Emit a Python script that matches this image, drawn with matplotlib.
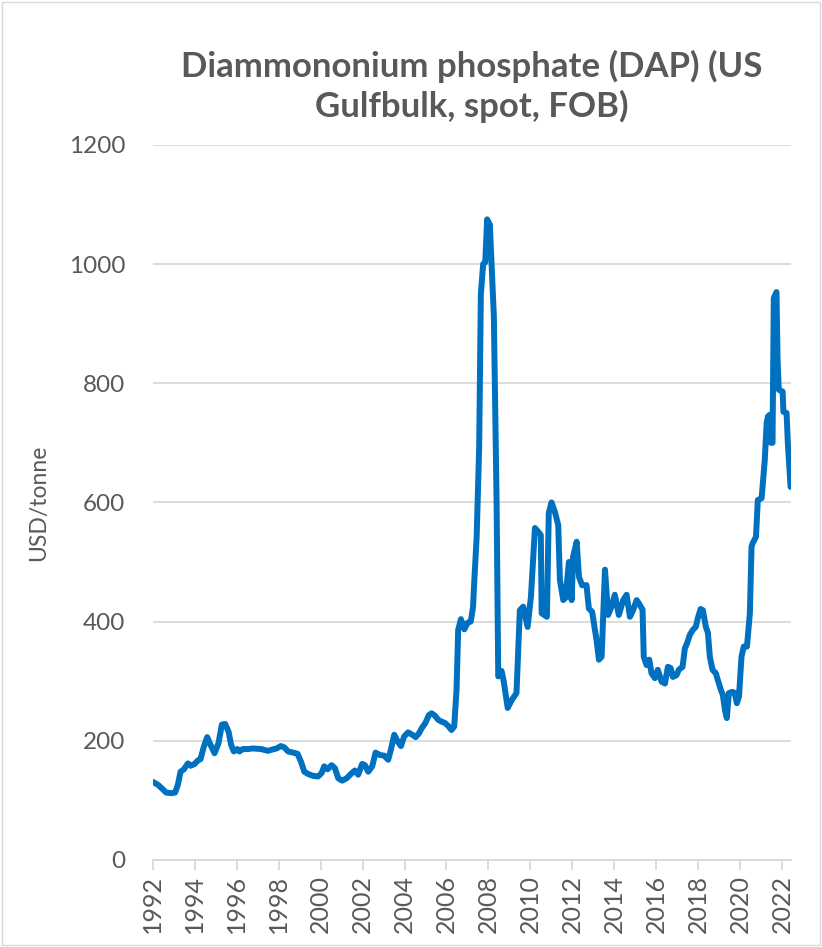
import numpy as np
import matplotlib
matplotlib.use('Agg')
import matplotlib.pyplot as plt
from matplotlib.patches import Rectangle

# DAP price (decimal year, USD/tonne)
years = [
    1992.00, 1992.24, 1992.43, 1992.63, 1992.87, 1993.06, 1993.19, 1993.32, 1993.48, 1993.67,
    1993.80, 1993.99, 1994.15, 1994.27, 1994.43, 1994.59, 1994.75, 1994.94, 1995.13, 1995.29,
    1995.45, 1995.61, 1995.73, 1995.86, 1996.02, 1996.13, 1996.29, 1996.53, 1996.77, 1997.16,
    1997.48, 1997.67, 1997.90, 1998.10, 1998.26, 1998.45, 1998.69, 1998.90, 1999.06, 1999.22,
    1999.41, 1999.64, 1999.88, 2000.05, 2000.17, 2000.33, 2000.52, 2000.68, 2000.84, 2001.03,
    2001.24, 2001.44, 2001.63, 2001.79, 2001.98, 2002.11, 2002.27, 2002.46, 2002.62, 2002.83,
    2003.03, 2003.22, 2003.35, 2003.51, 2003.67, 2003.83, 2003.98, 2004.17, 2004.37, 2004.53,
    2004.68, 2004.84, 2005.00, 2005.16, 2005.29, 2005.45, 2005.61, 2005.77, 2005.92, 2006.08,
    2006.24, 2006.37, 2006.48, 2006.56, 2006.69, 2006.85, 2007.01, 2007.16, 2007.27, 2007.30,
    2007.44, 2007.56, 2007.64, 2007.75, 2007.85, 2007.94, 2008.07, 2008.26, 2008.39, 2008.47,
    2008.63, 2008.73, 2008.92, 2009.11, 2009.34, 2009.50, 2009.66, 2009.87, 2010.03, 2010.22,
    2010.37, 2010.50, 2010.54, 2010.66, 2010.79, 2010.88, 2011.01, 2011.17, 2011.33, 2011.41,
    2011.57, 2011.68, 2011.84, 2011.97, 2012.04, 2012.21, 2012.32, 2012.47, 2012.68, 2012.79,
    2012.95, 2013.08, 2013.16, 2013.27, 2013.40, 2013.56, 2013.71, 2013.87, 2014.03, 2014.22,
    2014.43, 2014.59, 2014.75, 2014.90, 2015.07, 2015.22, 2015.35, 2015.41, 2015.54, 2015.67,
    2015.78, 2015.94, 2016.08, 2016.26, 2016.42, 2016.56, 2016.69, 2016.80, 2016.97, 2017.08,
    2017.26, 2017.37, 2017.48, 2017.61, 2017.75, 2017.89, 2017.99, 2018.12, 2018.23, 2018.37,
    2018.47, 2018.56, 2018.69, 2018.85, 2018.94, 2019.09, 2019.18, 2019.28, 2019.37, 2019.47,
    2019.64, 2019.75, 2019.85, 2019.95, 2020.07, 2020.18, 2020.33, 2020.47, 2020.55, 2020.61,
    2020.76, 2020.85, 2021.03, 2021.18, 2021.27, 2021.33, 2021.42, 2021.47, 2021.55, 2021.61,
    2021.74, 2021.79, 2021.85, 2022.03, 2022.07, 2022.22, 2022.28, 2022.41,
]
price = [
    131, 126, 120, 113, 112, 113, 126, 148, 152, 162,
    158, 161, 167, 169, 190, 206, 193, 179, 196, 227,
    228, 215, 193, 182, 186, 182, 186, 186, 187, 186,
    183, 185, 187, 191, 189, 182, 180, 178, 165, 148,
    144, 141, 140, 146, 157, 152, 159, 154, 137, 133,
    137, 144, 150, 143, 161, 159, 148, 157, 180, 176,
    175, 168, 185, 210, 199, 191, 207, 214, 210, 206,
    212, 222, 230, 243, 246, 242, 235, 232, 230, 225,
    218, 224, 285, 386, 404, 387, 398, 400, 425, 450,
    542, 692, 949, 1000, 1003, 1075, 1066, 913, 602, 308,
    317, 300, 255, 268, 280, 419, 425, 391, 442, 557,
    551, 545, 414, 411, 408, 582, 600, 584, 562, 470,
    436, 440, 500, 436, 509, 534, 475, 461, 461, 422,
    416, 386, 369, 336, 341, 487, 411, 425, 445, 411,
    436, 445, 408, 419, 436, 428, 420, 341, 327, 336,
    313, 305, 319, 299, 296, 324, 322, 307, 310, 319,
    324, 355, 364, 378, 386, 391, 406, 421, 419, 391,
    381, 341, 319, 313, 302, 285, 277, 252, 238, 280,
    282, 280, 263, 274, 341, 358, 358, 414, 526, 532,
    542, 604, 607, 671, 733, 744, 747, 700, 700, 943,
    953, 839, 789, 786, 752, 750, 700, 626,
]

x_ticks = list(range(1992, 2023, 2))
y_ticks = [0, 200, 400, 600, 800, 1000, 1200]

plt.rcParams['font.family'] = ['Lato', 'DejaVu Sans']
grey = '#595959'

fig = plt.figure(figsize=(8.22, 9.47), dpi=100)
# thin grey frame round the chart area, as in the source
fig.patches.append(Rectangle((0.002, 0.002), 0.995, 0.996, transform=fig.transFigure,
                             fill=False, edgecolor='#d9d9d9', lw=1.0))
ax = fig.add_axes([0.186, 0.092, 0.776, 0.755])

ax.plot(years, price, color='#0070C0', lw=4.3, solid_joinstyle='round', solid_capstyle='round')

ax.set_xlim(1992, 2022.42)
ax.set_ylim(0, 1200)
ax.set_xticks(x_ticks)
ax.set_xticklabels([str(t) for t in x_ticks], rotation=90, fontsize=18, color=grey)
ax.set_yticks(y_ticks)
ax.set_yticklabels([str(t) for t in y_ticks], fontsize=17.5, color=grey)

ax.grid(axis='y', color='#d9d9d9', lw=1.3)
ax.set_axisbelow(True)
for s in ['top', 'right', 'left']:
    ax.spines[s].set_visible(False)
ax.spines['bottom'].set_color('#d9d9d9')
ax.spines['bottom'].set_linewidth(1.3)
ax.tick_params(axis='x', length=7, width=1.3, color='#d9d9d9', pad=4)
ax.tick_params(axis='y', length=0, pad=20)

ax.set_ylabel('USD/tonne', fontsize=16.5, color=grey, labelpad=14)
ax.set_title('Diammononium phosphate (DAP) (US\nGulfbulk, spot, FOB)',
             fontsize=25, fontweight='bold', color=grey, pad=20, linespacing=1.25)

fig.savefig('out.png', dpi=100)
